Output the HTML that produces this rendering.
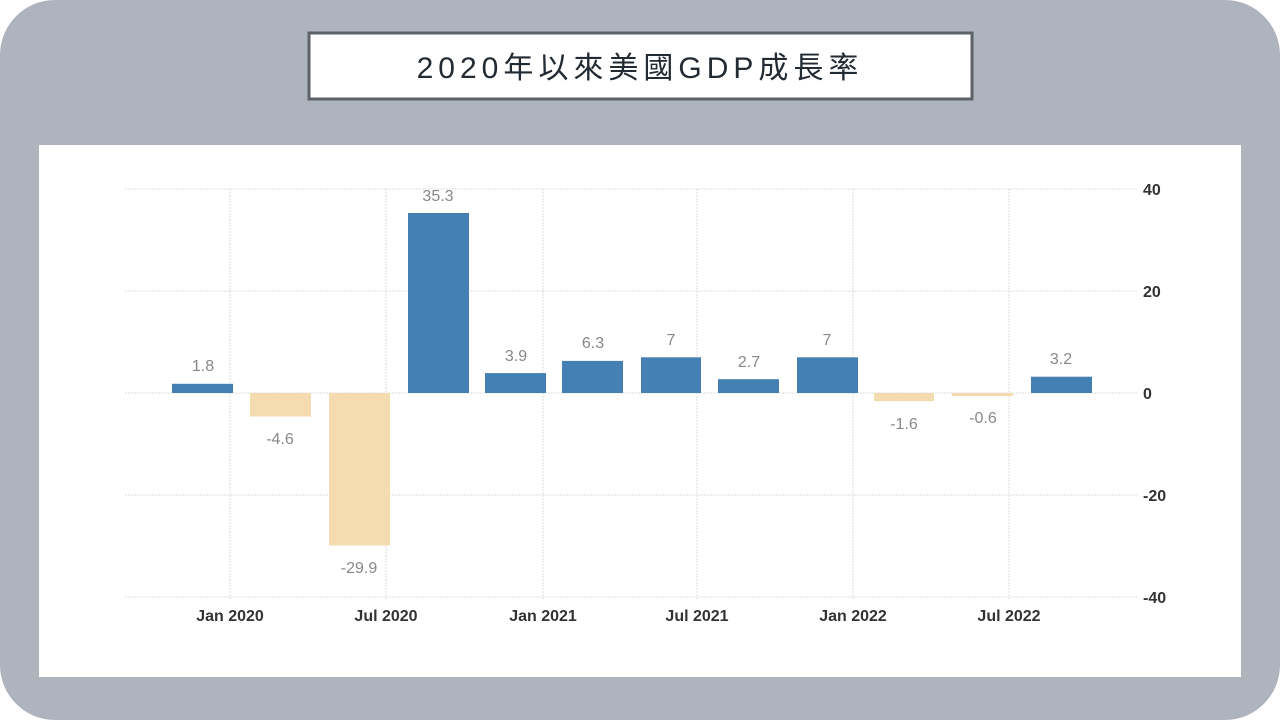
<!DOCTYPE html>
<html><head><meta charset="utf-8"><style>
html,body{margin:0;padding:0;background:#fff;width:1280px;height:720px;overflow:hidden}
</style></head><body>
<svg width="1280" height="720" xmlns="http://www.w3.org/2000/svg" font-family="'Liberation Sans', 'Noto Sans CJK TC', sans-serif">
<rect x="0" y="0" width="1280" height="720" rx="55" fill="#aeb4be"/>
<rect x="309" y="33" width="663" height="66" fill="#fff" stroke="#5d6168" stroke-width="3"/>
<text x="640" y="78" text-anchor="middle" font-size="30" fill="#222a33" letter-spacing="5">2020年以來美國GDP成長率</text>
<rect x="39" y="145" width="1202" height="532" fill="#fff"/>
<g stroke="#ddd" stroke-width="1" stroke-dasharray="2,1">
<line x1="125" y1="189" x2="1137" y2="189"/>
<line x1="125" y1="291" x2="1137" y2="291"/>
<line x1="125" y1="393" x2="1137" y2="393"/>
<line x1="125" y1="495" x2="1137" y2="495"/>
<line x1="125" y1="597" x2="1137" y2="597"/>
<line x1="230" y1="189" x2="230" y2="600"/>
<line x1="386" y1="189" x2="386" y2="600"/>
<line x1="543" y1="189" x2="543" y2="600"/>
<line x1="697" y1="189" x2="697" y2="600"/>
<line x1="853" y1="189" x2="853" y2="600"/>
<line x1="1009" y1="189" x2="1009" y2="600"/>
</g>
<g fill="#4480b3">
<rect x="172" y="383.8" width="61" height="9.2"/>
<rect x="408" y="213" width="61" height="180"/>
<rect x="485" y="373.1" width="61" height="19.9"/>
<rect x="562" y="360.9" width="61" height="32.1"/>
<rect x="641" y="357.3" width="60" height="35.7"/>
<rect x="718" y="379.2" width="61" height="13.8"/>
<rect x="797" y="357.3" width="61" height="35.7"/>
<rect x="1031" y="376.7" width="61" height="16.3"/>
</g>
<g fill="#f5dcb0">
<rect x="250" y="393" width="61" height="23.5"/>
<rect x="329" y="393" width="61" height="152.5"/>
<rect x="874" y="393" width="60" height="8.2"/>
<rect x="952" y="393" width="61" height="3"/>
</g>
<g font-size="16" fill="#888" text-anchor="middle">
<text x="203" y="371">1.8</text>
<text x="280" y="444">-4.6</text>
<text x="359" y="573">-29.9</text>
<text x="438" y="201">35.3</text>
<text x="516" y="361">3.9</text>
<text x="593" y="348">6.3</text>
<text x="671" y="345">7</text>
<text x="749" y="367">2.7</text>
<text x="827" y="345">7</text>
<text x="904" y="429">-1.6</text>
<text x="983" y="423">-0.6</text>
<text x="1061" y="364">3.2</text>
</g>
<g font-size="16" fill="#333" text-anchor="start" font-weight="bold">
<text x="1143" y="195">40</text>
<text x="1143" y="297">20</text>
<text x="1143" y="399">0</text>
<text x="1143" y="501">-20</text>
<text x="1143" y="603">-40</text>
</g>
<g font-size="16" fill="#333" text-anchor="middle" font-weight="bold">
<text x="230" y="621">Jan 2020</text>
<text x="386" y="621">Jul 2020</text>
<text x="543" y="621">Jan 2021</text>
<text x="697" y="621">Jul 2021</text>
<text x="853" y="621">Jan 2022</text>
<text x="1009" y="621">Jul 2022</text>
</g>
</svg>
</body></html>
